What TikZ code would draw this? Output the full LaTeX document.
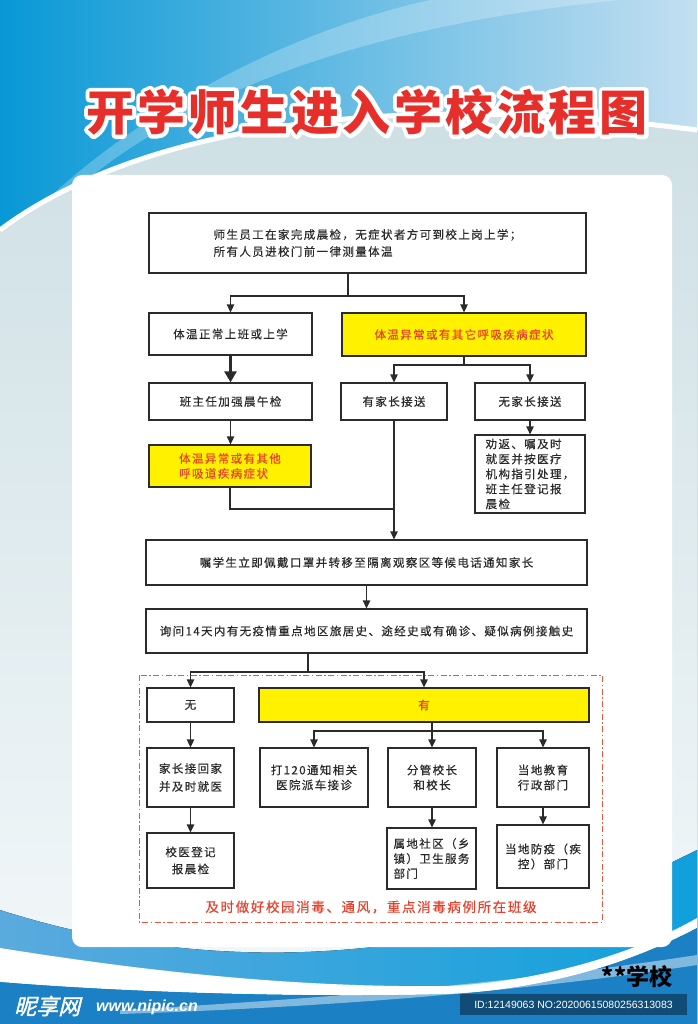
\documentclass[tikz,border=0pt]{standalone}
\usepackage{fontspec}
\usetikzlibrary{arrows.meta}
\setmainfont{Liberation Sans}
\newfontfamily\cjk[LetterSpace=12,FakeBold=0.4]{Noto Sans CJK SC}
\newfontfamily\cjkt[LetterSpace=7]{Noto Sans CJK SC}
\newfontfamily\cjkp{Noto Sans CJK SC}
\newfontfamily\wmfont[FakeSlant=0.25,FakeBold=1.5]{Noto Sans CJK SC}
\newcommand\outlinetext[1]{\special{pdf:literal direct 1 Tr 8 w 1 J 1 j}#1\special{pdf:literal direct 0 Tr 1 w}}
\definecolor{bgA}{HTML}{0898D6}
\definecolor{bgB}{HTML}{C4DFF1}
\definecolor{pale}{HTML}{CDDFE4}
\definecolor{pale2}{HTML}{F4F8FA}
\definecolor{bluL}{HTML}{5AAADD}
\definecolor{bluR}{HTML}{10A0DC}
\definecolor{bluD}{HTML}{1B80C4}
\definecolor{boxline}{HTML}{2B2B2B}
\definecolor{txt}{HTML}{2A2A2A}
\definecolor{yel}{HTML}{FFF100}
\definecolor{redt}{HTML}{E8402C}
\definecolor{titred}{HTML}{E62E2B}
\definecolor{dashred}{HTML}{E8553F}
\tikzset{
  box/.style={draw=boxline, line width=1.3pt, fill=white, text=txt,
    font=\cjk\fontsize{11.5}{15}\selectfont, inner sep=0pt, align=center},
  ybox/.style={box, fill=yel, text=redt},
  ln/.style={draw=boxline, line width=1.3pt},
  arr/.style={ln, -{Triangle[width=7.5pt,length=8pt]}},
  bigarr/.style={draw=boxline, line width=2.6pt, -{Triangle[width=12pt,length=11pt]}},
  ttl/.style={font=\cjkt\bfseries\fontsize{48}{52}\selectfont, inner sep=0pt},
  dashframe/.style={draw=dashred, line width=1pt, dash pattern=on 6pt off 2.5pt on 1.5pt off 2.5pt}
}
\begin{document}
\begin{tikzpicture}[x=1pt,y=-1pt]
\useasboundingbox (0,0) rectangle (697,1024);
% ---------- background ----------
\fill[left color=bgA, right color=bgB] (0,0) rectangle (697,1024);
\fill[white, opacity=0.25] (0,270) .. controls (110,120) and (320,30) .. (620,0)
   -- (430,0) .. controls (250,40) and (80,150) .. (0,250) -- cycle;
\fill[top color=pale, bottom color=pale2] (0,230) .. controls (120,140) and (350,85) .. (697,130)
   -- (697,1024) -- (0,1024) -- cycle;
\draw[white, line width=5pt] (0,230) .. controls (120,140) and (350,85) .. (697,130);
% bottom waves
\fill[left color=bluL, right color=bluR] (0,910) .. controls (250,990) and (500,950) .. (697,850)
   -- (697,1024) -- (0,1024) -- cycle;
\fill[white] (0,948) .. controls (150,972) and (300,988) .. (450,986)
   .. controls (560,980) and (650,945) .. (697,918) -- (697,928)
   .. controls (640,958) and (560,988) .. (450,994) .. controls (300,998) and (120,992) .. (0,982) -- cycle;
\fill[bluD] (0,982) .. controls (120,992) and (300,998) .. (450,994)
   .. controls (560,988) and (640,958) .. (697,928) -- (697,1024) -- (0,1024) -- cycle;
\fill[white, opacity=0.45] (120,1010) .. controls (300,1000) and (500,985) .. (697,955)
   -- (697,965) .. controls (500,995) and (300,1008) .. (120,1014) -- cycle;
% white panel
\fill[white, rounded corners=10pt] (72,175) rectangle (672,947);
% ---------- title ----------
\node[ttl, text=white] (titlebg) at (367,112) {\outlinetext{开学师生进入学校流程图}};
\node[ttl, text=titred] (title) at (367,112) {开学师生进入学校流程图};
% ---------- boxes ----------
\node[box, align=left, minimum width=437pt, minimum height=60pt,
      font=\cjk\fontsize{11.5}{17}\selectfont] (t) at (367.5,243)
  {师生员工在家完成晨检，无症状者方可到校上岗上学；\\所有人员进校门前一律测量体温};
\node[box, minimum width=163pt, minimum height=42pt] (a) at (230.5,334) {体温正常上班或上学};
\node[ybox, minimum width=244pt, minimum height=43pt] (b) at (464,334.5) {体温异常或有其它呼吸疾病症状};
\node[box, minimum width=163pt, minimum height=37pt] (c) at (230.5,401.5) {班主任加强晨午检};
\node[box, minimum width=106pt, minimum height=37pt] (d) at (394,401.5) {有家长接送};
\node[box, minimum width=110pt, minimum height=37pt] (e) at (530,401.5) {无家长接送};
\node[ybox, align=left, minimum width=162pt, minimum height=42pt] (f) at (230,466)
  {体温异常或有其他\\呼吸道疾病症状};
\node[box, align=left, minimum width=110pt, minimum height=78pt] (g) at (530,474)
  {劝返、嘱及时\\就医并按医疗\\机构指引处理，\\班主任登记报\\晨检};
\node[box, minimum width=441pt, minimum height=45pt] (h) at (366.5,562.5)
  {嘱学生立即佩戴口罩并转移至隔离观察区等候电话通知家长};
\node[box, minimum width=441pt, minimum height=44pt] (i) at (366.5,631)
  {询问14天内有无疫情重点地区旅居史、途经史或有确诊、疑似病例接触史};
% lower section
\draw[dashframe] (139,675) rectangle (602,922);
\node[box, minimum width=87pt, minimum height=34pt] (j) at (190.5,705) {无};
\node[ybox, minimum width=330pt, minimum height=34pt] (k) at (424,705) {有};
\node[box, minimum width=87pt, minimum height=59pt, font=\cjk\fontsize{11.5}{18}\selectfont] (l) at (190.5,777.5) {家长接回家\\并及时就医};
\node[box, minimum width=87pt, minimum height=55pt, font=\cjk\fontsize{11.5}{17}\selectfont] (m) at (190.5,860.5) {校医登记\\报晨检};
\node[box, minimum width=108pt, minimum height=59pt] (n) at (314,777.5) {打120通知相关\\医院派车接诊};
\node[box, minimum width=88pt, minimum height=59pt] (o) at (432,777.5) {分管校长\\和校长};
\node[box, minimum width=92pt, minimum height=59pt] (p) at (543,777.5) {当地教育\\行政部门};
\node[box, align=left, minimum width=89pt, minimum height=61pt] (q) at (431.5,858.5) {属地社区（乡\\镇）卫生服务\\部门};
\node[box, minimum width=92pt, minimum height=63pt] (r) at (543,856.5) {当地防疫（疾\\控）部门};
\node[text=redt, font=\cjk\fontsize{13.5}{16}\selectfont, inner sep=0pt] (note) at (371,907)
  {及时做好校园消毒、通风，重点消毒病例所在班级};
% ---------- connectors ----------
\coordinate (s1) at (348,296);
\draw[ln] (t.south -| s1) -- (s1);
\draw[arr] (s1) -| (a.north);
\draw[arr] (s1) -| (b.north);
\draw[bigarr] (a.south) -- (a.south |- c.north);
\draw[arr] (c.south) -- (c.south |- f.north);
\coordinate (s2) at (464,365);
\draw[ln] (b.south) -- (s2);
\draw[arr] (s2) -| (d.north);
\draw[arr] (s2) -| (e.north);
\draw[arr] (e.south) -- (g.north);
\coordinate (m1) at (394,509);
\draw[ln] (f.south) |- (m1);
\draw[arr] (d.south) -- (d.south |- h.north);
\draw[arr] (h.south) -- (i.north);
\coordinate (s3) at (308,672);
\draw[ln] (i.south -| s3) -- (s3);
\draw[arr] (s3) -| (j.north);
\draw[arr] (s3) -| (k.north);
\draw[arr] (j.south) -- (l.north);
\draw[arr] (l.south) -- (m.north);
\coordinate (s4) at (432,731);
\draw[ln] (k.south -| s4) -- (s4);
\draw[arr] (s4) -| (n.north);
\draw[arr] (s4) -- (o.north);
\draw[arr] (s4) -| (p.north);
\draw[arr] (o.south) -- (o.south |- q.north);
\draw[arr] (p.south) -- (r.north);
% ---------- footer ----------
\node[font=\cjkp\bfseries\fontsize{23}{26}\selectfont, text=black, inner sep=0pt] (school) at (637,977) {**学校};
\fill[black, opacity=0.4] (460,994) rectangle (687,1015);
\node[font=\fontsize{10.5}{12}\selectfont, text=white, inner sep=0pt] (id) at (573.5,1004.5) {ID:12149063 NO:20200615080256313083};
\node[font=\wmfont\fontsize{22}{24}\selectfont, text=white, inner sep=0pt, anchor=west] (wm1) at (14,1006) {昵享网};
\node[font=\bfseries\itshape\fontsize{16}{18}\selectfont, text=white, inner sep=0pt, anchor=west] (wm2) at (96,1007) {www.nipic.cn};
\end{tikzpicture}
\end{document}
